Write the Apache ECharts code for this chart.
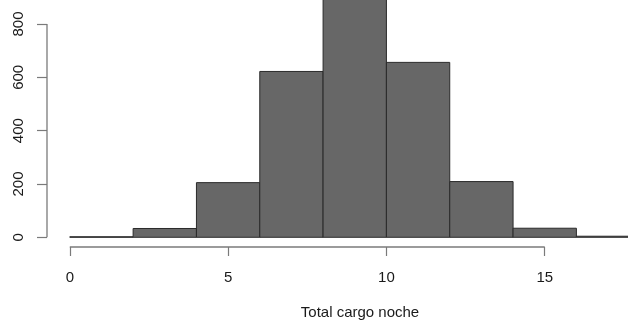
<!DOCTYPE html>
<html>
<head>
<meta charset="utf-8">
<script src="https://cdn.jsdelivr.net/npm/echarts@6/dist/echarts.min.js"></script>
<style>
  html, body { margin: 0; padding: 0; background: #fff; }
  #chart { width: 628px; height: 322px; }
</style>
</head>
<body>
<div id="chart"></div>
<script>
// Histogram bins (width 2) and their counts
const binStarts = [0, 2, 4, 6, 8, 10, 12, 14, 16];
const binWidth = 2;
const counts = [2, 33, 205, 622, 910, 656, 209, 34, 4];

// Axis tick positions
const xTicks = [0, 5, 10, 15];
const yTicks = [0, 200, 400, 600, 800];
const xLabel = 'Total cargo noche';

// Plot region extends 4% beyond the data range on each side
const xMin = -0.72, xMax = 17.63;
const yMin = -36.4, yMax = 890;

const axisGray = '#7a7a7a';
const textColor = '#1a1a1a';
const font = 'Liberation Sans, Arial, sans-serif';

const chart = echarts.init(document.getElementById('chart'));

chart.setOption({
  animation: false,
  backgroundColor: '#fff',
  title: {
    text: xLabel,
    left: 355,
    top: 300,
    textAlign: 'center',
    textStyle: { fontFamily: font, fontSize: 15, fontWeight: 'normal', color: textColor }
  },
  grid: { left: 47, right: 0, top: 0, bottom: 75 },
  xAxis: {
    type: 'value',
    min: xMin,
    max: xMax,
    splitLine: { show: false },
    axisLine: { show: false, onZero: false },
    axisTick: { show: true, length: 9, customValues: xTicks, lineStyle: { color: axisGray, width: 1.2 } },
    axisLabel: { customValues: xTicks, margin: 23, fontFamily: font, fontSize: 15, color: textColor }
  },
  yAxis: {
    type: 'value',
    min: yMin,
    max: yMax,
    splitLine: { show: false },
    axisLine: { show: false, onZero: false },
    axisTick: { show: true, length: 10, customValues: yTicks, lineStyle: { color: axisGray, width: 1.2 } },
    axisLabel: { customValues: yTicks, rotate: 90, margin: 21, fontFamily: font, fontSize: 15, color: textColor }
  },
  series: [
    {
      type: 'custom',
      clip: true,
      data: binStarts.map((s, i) => [s, s + binWidth, counts[i]]),
      renderItem: function (params, api) {
        const p0 = api.coord([api.value(0), 0]);
        const p1 = api.coord([api.value(1), api.value(2)]);
        return {
          type: 'rect',
          shape: { x: p0[0], y: p1[1], width: p1[0] - p0[0], height: p0[1] - p1[1] },
          style: { fill: '#676767', stroke: '#2a2a2a', lineWidth: 1 }
        };
      }
    },
    {
      // Axis spines spanning only the tick range
      type: 'custom',
      clip: false,
      silent: true,
      data: [[0]],
      renderItem: function (params, api) {
        const ya = api.coord([xMin, yTicks[0]]);
        const yb = api.coord([xMin, yTicks[yTicks.length - 1]]);
        const xa = api.coord([xTicks[0], yMin]);
        const xb = api.coord([xTicks[xTicks.length - 1], yMin]);
        const st = { stroke: axisGray, lineWidth: 1.3 };
        return {
          type: 'group',
          children: [
            { type: 'line', shape: { x1: ya[0], y1: ya[1], x2: yb[0], y2: yb[1] }, style: st },
            { type: 'line', shape: { x1: xa[0], y1: xa[1], x2: xb[0], y2: xb[1] }, style: st }
          ]
        };
      }
    }
  ]
});
</script>
</body>
</html>
